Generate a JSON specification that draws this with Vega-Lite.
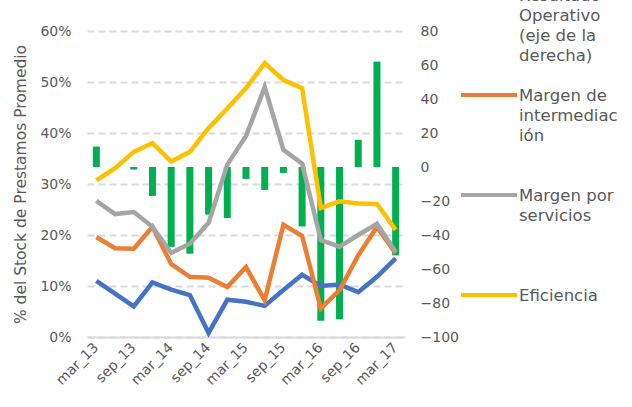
{
  "$schema": "https://vega.github.io/schema/vega-lite/v6.json",
  "autosize": {"type": "none"},
  "width": 318,
  "height": 306,
  "padding": {"left": 87, "top": 31, "right": 227, "bottom": 70},
  "background": "white",
  "config": {
    "font": "DejaVu Sans",
    "view": {"stroke": null},
    "axis": {"labelColor": "#595959", "titleColor": "#595959", "labelFontSize": 14, "titleFontSize": 15.5, "titleFontWeight": "normal", "ticks": false}
  },
  "datasets": {
    "trimestres": [
      {"q": "mar_13", "res": 12, "azul": 0.110, "inter": 0.196, "serv": 0.267, "efic": 0.307},
      {"q": "jun_13", "res": 0, "azul": 0.085, "inter": 0.174, "serv": 0.241, "efic": 0.331},
      {"q": "sep_13", "res": -1.5, "azul": 0.060, "inter": 0.173, "serv": 0.245, "efic": 0.363},
      {"q": "dec_13", "res": -17, "azul": 0.107, "inter": 0.216, "serv": 0.216, "efic": 0.380},
      {"q": "mar_14", "res": -47, "azul": 0.093, "inter": 0.143, "serv": 0.165, "efic": 0.344},
      {"q": "jun_14", "res": -51, "azul": 0.082, "inter": 0.118, "serv": 0.183, "efic": 0.363},
      {"q": "sep_14", "res": -28, "azul": 0.008, "inter": 0.116, "serv": 0.224, "efic": 0.410},
      {"q": "dec_14", "res": -30, "azul": 0.073, "inter": 0.098, "serv": 0.338, "efic": 0.448},
      {"q": "mar_15", "res": -7, "azul": 0.069, "inter": 0.137, "serv": 0.394, "efic": 0.488},
      {"q": "jun_15", "res": -13.5, "azul": 0.061, "inter": 0.072, "serv": 0.490, "efic": 0.537},
      {"q": "sep_15", "res": -3.5, "azul": 0.092, "inter": 0.220, "serv": 0.367, "efic": 0.504},
      {"q": "dec_15", "res": -35, "azul": 0.122, "inter": 0.198, "serv": 0.340, "efic": 0.488},
      {"q": "mar_16", "res": -90.5, "azul": 0.100, "inter": 0.056, "serv": 0.190, "efic": 0.253},
      {"q": "jun_16", "res": -89.5, "azul": 0.103, "inter": 0.092, "serv": 0.177, "efic": 0.266},
      {"q": "sep_16", "res": 16, "azul": 0.088, "inter": 0.160, "serv": 0.200, "efic": 0.262},
      {"q": "dec_16", "res": 62, "azul": 0.118, "inter": 0.216, "serv": 0.222, "efic": 0.261},
      {"q": "mar_17", "res": -52, "azul": 0.154, "inter": 0.164, "serv": 0.167, "efic": 0.210}
    ]
  },
  "data": {"name": "trimestres"},
  "encoding": {
    "x": {
      "field": "q", "type": "ordinal", "sort": null,
      "scale": {"type": "band", "paddingInner": 0, "paddingOuter": 0},
      "axis": {
        "title": null,
        "values": ["mar_13", "sep_13", "mar_14", "sep_14", "mar_15", "sep_15", "mar_16", "sep_16", "mar_17"],
        "labelAngle": -45, "labelAlign": "right", "labelBaseline": "middle", "labelPadding": 8,
        "domain": true, "domainColor": "#d9d9d9", "domainWidth": 2, "grid": false
      }
    }
  },
  "layer": [
    {
      "mark": {"type": "bar", "size": 7, "color": "#00B050"},
      "encoding": {
        "y": {
          "field": "res", "type": "quantitative",
          "scale": {"domain": [-100, 80], "nice": false, "zero": false},
          "axis": {"orient": "right", "title": null, "values": [-100, -80, -60, -40, -20, 0, 20, 40, 60, 80], "grid": false, "domain": false, "labelPadding": 15}
        }
      }
    },
    {
      "encoding": {
        "y": {
          "type": "quantitative",
          "scale": {"domain": [0, 0.6], "nice": false},
          "axis": {
            "orient": "left", "title": "% del Stock de Prestamos Promedio", "format": ".0%",
            "values": [0, 0.1, 0.2, 0.3, 0.4, 0.5, 0.6], "domain": false,
            "grid": true, "gridColor": "#d9d9d9", "gridWidth": 2, "gridDash": [7, 4],
            "labelPadding": 16, "titlePadding": 11
          }
        }
      },
      "layer": [
        {"mark": {"type": "line", "strokeWidth": 4.5, "color": "#4472C4"}, "encoding": {"y": {"field": "azul", "type": "quantitative", "title": "% del Stock de Prestamos Promedio"}}},
        {"mark": {"type": "line", "strokeWidth": 4.5}, "encoding": {"y": {"field": "inter", "type": "quantitative", "title": "% del Stock de Prestamos Promedio"}, "color": {"datum": "Margen de intermediación"}}},
        {"mark": {"type": "line", "strokeWidth": 4.5}, "encoding": {"y": {"field": "serv", "type": "quantitative", "title": "% del Stock de Prestamos Promedio"}, "color": {"datum": "Margen por servicios"}}},
        {"mark": {"type": "line", "strokeWidth": 4.5}, "encoding": {"y": {"field": "efic", "type": "quantitative", "title": "% del Stock de Prestamos Promedio"},
          "color": {
            "datum": "Eficiencia", "type": "nominal",
            "scale": {"domain": ["Resultado Operativo (eje de la derecha)", "Margen de intermediación", "Margen por servicios", "Eficiencia"], "range": ["#00B050", "#ED7D31", "#A5A5A5", "#FFC000"]},
            "legend": {
              "title": null, "orient": "none", "legendX": 372, "legendY": -66,
              "symbolType": "stroke", "symbolSize": 3136, "symbolStrokeWidth": 4,
              "labelFontSize": 16.5, "labelColor": "#595959", "labelLimit": 0, "labelOffset": 0,
              "labelBaseline": "alphabetic", "gridAlign": "all", "rowPadding": 0,
              "encode": {"labels": {"update": {"lineHeight": {"value": 20}, "dy": {"value": 6}}}},
              "labelExpr": "datum.label == 'Resultado Operativo (eje de la derecha)' ? ['Resultado','Operativo','(eje de la','derecha)'] : datum.label == 'Margen de intermediación' ? ['Margen de','intermediac','ión'] : datum.label == 'Margen por servicios' ? ['Margen por','servicios'] : datum.label"
            }
          }
        }}
      ]
    }
  ],
  "resolve": {"scale": {"y": "independent"}}
}
